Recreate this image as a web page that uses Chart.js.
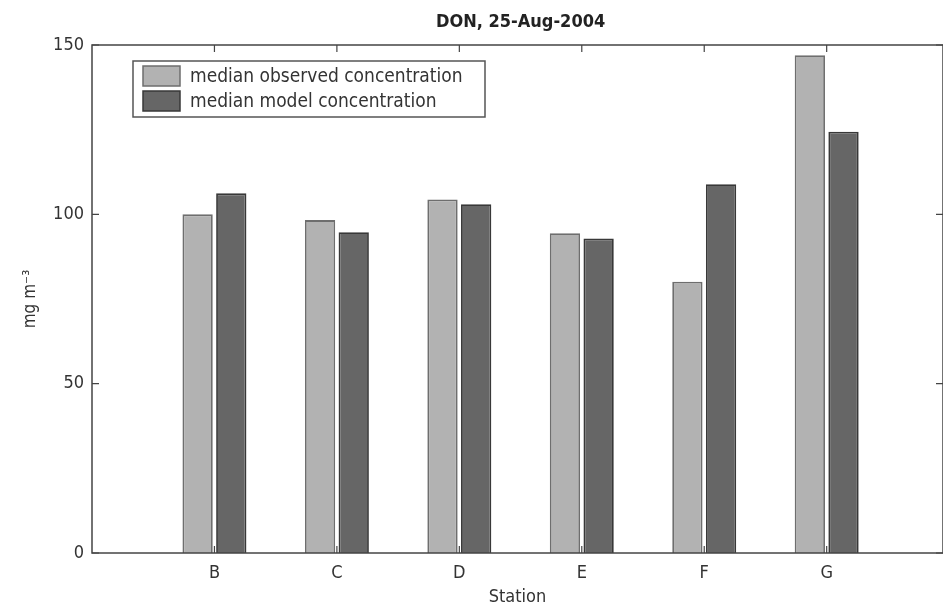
<!DOCTYPE html>
<html>
<head>
<meta charset="utf-8">
<script src="https://cdn.jsdelivr.net/npm/chart.js@4"></script>
<style>
  html, body { margin: 0; padding: 0; background: #fff; overflow: hidden; }
  #wrap { width: 943px; height: 610px; }
</style>
</head>
<body>
<div id="wrap"><canvas id="chart"></canvas></div>
<script>
// stations along the x axis
const stations = ['B', 'C', 'D', 'E', 'F', 'G'];
// median values, mg m-3
const observed = [100, 98.3, 104.4, 94.4, 80.1, 147];
const model = [106.2, 94.7, 103, 92.9, 108.9, 124.4];
const yTicks = [0, 50, 100, 150];
const chartTitle = 'DON, 25-Aug-2004';

const FONT = '"DejaVu Sans Condensed", "Liberation Sans", sans-serif';
const axisColor = '#444';

// matlab-style box around the axes with inward ticks, title and legend box
const framePlugin = {
    id: 'frame',
    afterDatasetsDraw(chart) {
        const ctx = chart.ctx;
        const a = chart.chartArea;
        const xs = chart.scales.x, ys = chart.scales.y;
        ctx.save();
        ctx.strokeStyle = axisColor;
        ctx.lineWidth = 1.5;
        ctx.strokeRect(a.left, a.top, a.right - a.left, a.bottom - a.top);
        ctx.lineWidth = 1.2;
        ctx.beginPath();
        ys.ticks.forEach(t => {
            const y = ys.getPixelForValue(t.value);
            ctx.moveTo(a.left, y); ctx.lineTo(a.left + 7, y);
            ctx.moveTo(a.right, y); ctx.lineTo(a.right - 7, y);
        });
        xs.ticks.forEach(t => {
            const x = xs.getPixelForValue(t.value);
            ctx.moveTo(x, a.top); ctx.lineTo(x, a.top + 7);
            ctx.moveTo(x, a.bottom); ctx.lineTo(x, a.bottom - 7);
        });
        ctx.stroke();

        // title, centred over the axes (which run a little past the right edge)
        ctx.fillStyle = '#222';
        ctx.font = 'bold 18px ' + FONT;
        ctx.textAlign = 'center';
        ctx.textBaseline = 'middle';
        ctx.fillText(chartTitle, (a.left + xs.getPixelForValue(7)) / 2, 22);

        // legend
        const lx = a.left + 41, ly = a.top + 16, lw = 352, lh = 56;
        ctx.fillStyle = '#fff';
        ctx.fillRect(lx, ly, lw, lh);
        ctx.strokeStyle = '#555';
        ctx.lineWidth = 1.5;
        ctx.strokeRect(lx, ly, lw, lh);
        ctx.font = '19px ' + FONT;
        ctx.textAlign = 'left';
        chart.data.datasets.forEach((ds, i) => {
            const rowY = ly + 15 + i * 25;
            ctx.fillStyle = ds.backgroundColor;
            ctx.fillRect(lx + 10, rowY - 10, 37, 20);
            ctx.strokeStyle = ds.borderColor;
            ctx.lineWidth = 1.5;
            ctx.strokeRect(lx + 10, rowY - 10, 37, 20);
            ctx.fillStyle = '#333';
            ctx.fillText(ds.label, lx + 57, rowY + 1);
        });
        ctx.restore();
    }
};

const ctx = document.getElementById('chart').getContext('2d');
new Chart(ctx, {
    type: 'bar',
    data: {
        datasets: [{
            label: 'median observed concentration',
            data: observed.map((v, i) => ({ x: i + 1, y: v })),
            backgroundColor: '#b2b2b2',
            borderColor: '#6e6e6e',
            borderWidth: 1.8,
        }, {
            label: 'median model concentration',
            data: model.map((v, i) => ({ x: i + 1, y: v })),
            backgroundColor: '#666666',
            borderColor: '#383838',
            borderWidth: 1.8,
        }],
    },
    options: {
        responsive: true,
        maintainAspectRatio: false,
        animation: false,
        categoryPercentage: 0.55,
        barPercentage: 0.9,
        layout: { padding: { left: 0, right: 0, top: 45, bottom: 2 } },
        plugins: {
            legend: { display: false },
            tooltip: { enabled: false },
            title: { display: false },
        },
        scales: {
            x: {
                type: 'linear',
                min: 0,
                max: 6.95,
                offset: false,
                grid: { display: false, drawTicks: false },
                border: { display: false },
                afterBuildTicks: s => {
                    s.ticks = stations.map((_, i) => ({ value: i + 1 }));
                },
                afterFit: s => { s.height = 55; },
                ticks: {
                    padding: 10,
                    color: '#333',
                    font: { family: FONT, size: 18 },
                    callback: v => stations[v - 1] || '',
                },
                title: {
                    display: true,
                    text: 'Station',
                    color: '#333',
                    font: { family: FONT, size: 18 },
                    padding: { top: 0, bottom: 0 },
                },
            },
            y: {
                min: 0,
                max: 150,
                grid: { display: false, drawTicks: false },
                border: { display: false },
                afterBuildTicks: s => {
                    s.ticks = yTicks.map(v => ({ value: v }));
                },
                afterFit: s => { s.width = 92; },
                ticks: {
                    padding: 8,
                    color: '#333',
                    font: { family: FONT, size: 18 },
                },
                title: {
                    display: true,
                    text: 'mg m⁻³',
                    color: '#333',
                    font: { family: FONT, size: 17 },
                    padding: { top: 20, bottom: 0 },
                },
            },
        },
    },
    plugins: [framePlugin],
});
</script>
</body>
</html>
